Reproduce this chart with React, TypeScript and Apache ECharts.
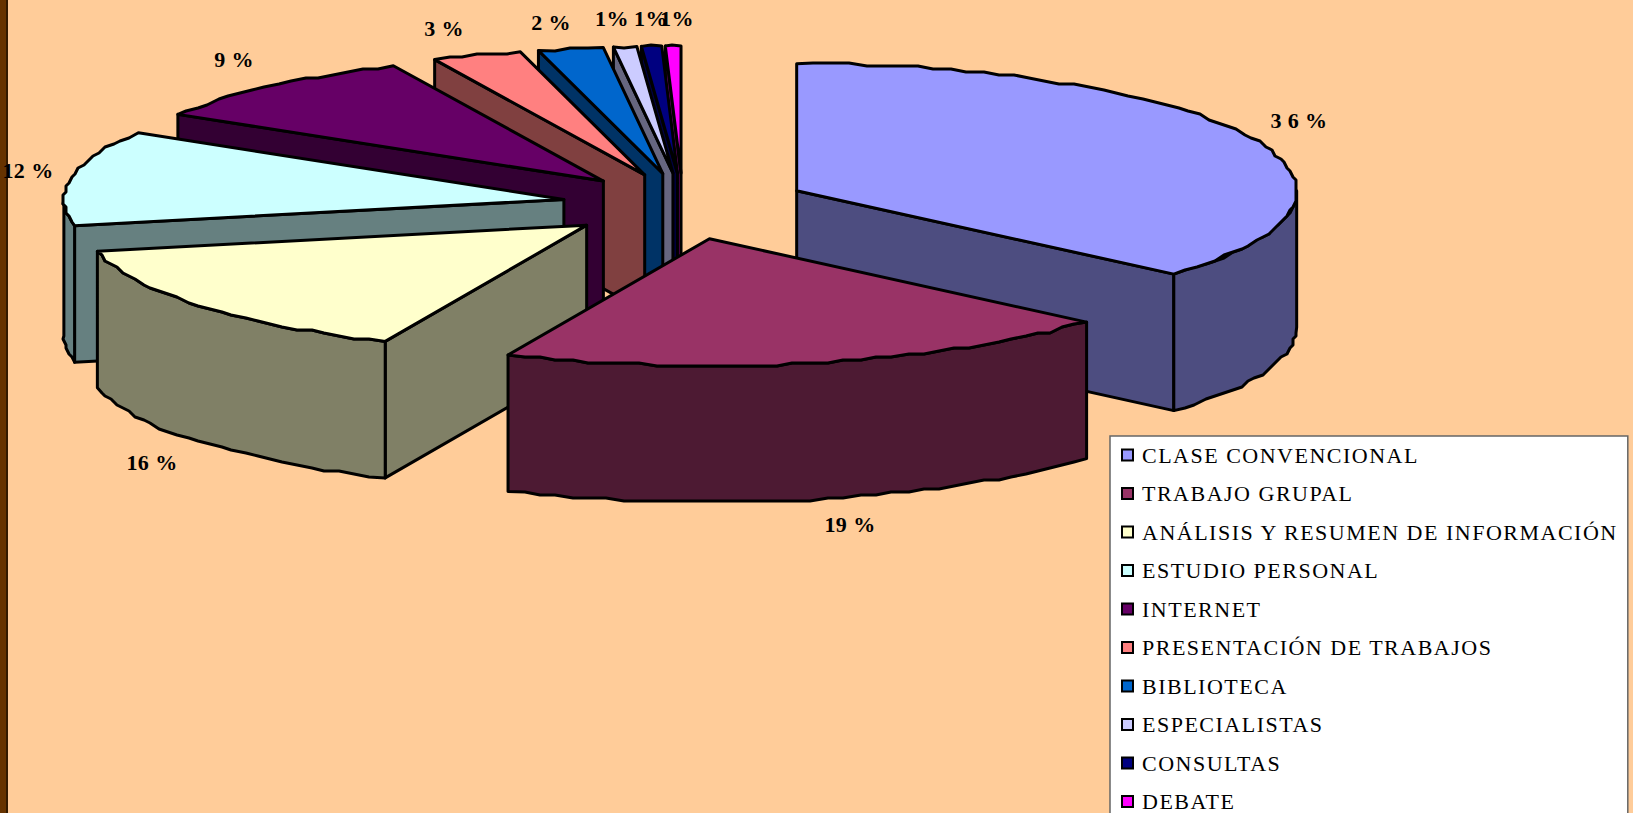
import React, { useEffect, useRef } from "react";
import * as echarts from "echarts";

const categories = [
  "CLASE CONVENCIONAL",
  "TRABAJO GRUPAL",
  "ANÁLISIS Y RESUMEN DE INFORMACIÓN",
  "ESTUDIO PERSONAL",
  "INTERNET",
  "PRESENTACIÓN DE TRABAJOS",
  "BIBLIOTECA",
  "ESPECIALISTAS",
  "CONSULTAS",
  "DEBATE",
];
// slice sizes
const shares = [36.4, 20.2, 15.1, 12.1, 9.3, 2.9, 2.1, 0.75, 0.65, 0.5];
const valueLabels = ["3 6 %", "19 %", "16 %", "12 %", "9 %", "3 %", "2 %", "1%", "1%", "1%"];

const topColors = ["#9999FF", "#993366", "#FFFFCC", "#CCFFFF", "#660066", "#FF8080", "#0066CC", "#CCCCFF", "#000080", "#FF00FF"];
const sideColors = ["#4D4D80", "#4D1A33", "#808066", "#668080", "#330033", "#804040", "#003366", "#666680", "#000040", "#800080"];
const labelPlaces = [
  [1299, 120], [850, 524], [152, 462], [28, 170], [234, 59],
  [444, 28], [551, 22], [612, 18], [651, 18], [677, 18],
];
const apexNudges = [[0, -1], [0, 2.5], [2.5, 0], [6, 0], [5, 0], [5, 0], [4, 0], [3, 0], [2, 0], [1, 0]];
const drawOrder = [9, 8, 7, 6, 5, 4, 3, 2, 0, 1];

const CX = 682, CY = 205, RX = 500, RY = 127, DEPTH = 136.5, EXPLODE = 0.252;
const LINE = 3, SNAP = 3;
const FONT = "'Liberation Serif', 'Times New Roman', serif";

const total = shares.reduce((a, b) => a + b, 0);
const rad = (d: number) => (d * Math.PI) / 180;

function sliceShapes(i: number) {
  const before = shares.slice(0, i).reduce((a, b) => a + b, 0);
  const s = (before / total) * 360;
  const e = ((before + shares[i]) / total) * 360;
  const m = (s + e) / 2;
  const ax = CX + EXPLODE * RX * Math.sin(rad(m)) + apexNudges[i][0];
  const ay = CY - EXPLODE * RY * Math.cos(rad(m)) + apexNudges[i][1];
  const at = (t: number, down = 0) => [ax + RX * Math.sin(rad(t)), ay - RY * Math.cos(rad(t)) + down];
  // the reference's curved edges are stepped: snap the in-between outline points to a small grid
  const arc = (a: number, b: number, down = 0) => {
    const n = Math.max(2, Math.ceil((b - a) / 2));
    const pts: number[][] = [];
    for (let k = 0; k <= n; k++) {
      const p = at(a + ((b - a) * k) / n, down);
      pts.push(k === 0 || k === n ? p : [Math.round(p[0] / SNAP) * SNAP, Math.round(p[1] / SNAP) * SNAP]);
    }
    return pts;
  };
  const style = (fill: string) => ({ fill, stroke: "#000", lineWidth: LINE, lineJoin: "round" });
  const children: any[] = [];
  const wall = (t: number) => ({
    type: "polygon",
    shape: { points: [[ax, ay], at(t), at(t, DEPTH), [ax, ay + DEPTH]] },
    style: style(sideColors[i]),
  });
  if (Math.sin(rad(e)) > 0.001) children.push(wall(e));
  if (Math.sin(rad(s)) < -0.001) children.push(wall(s));
  const a = Math.max(s, 90), b = Math.min(e, 270);
  if (b > a) {
    children.push({
      type: "polygon",
      shape: { points: [...arc(a, b), ...arc(a, b, DEPTH).reverse()] },
      style: style(sideColors[i]),
    });
  }
  children.push({
    type: "polygon",
    shape: { points: [[ax, ay], ...arc(s, e)] },
    style: style(topColors[i]),
  });
  const [lx, ly] = labelPlaces[i];
  children.push({
    type: "text",
    style: {
      text: valueLabels[i], x: lx, y: ly, fill: "#000", fontFamily: FONT,
      fontSize: 22, fontWeight: "bold", align: "center", verticalAlign: "middle",
    },
  });
  return children;
}

export default function App() {
  const ref = useRef<HTMLDivElement>(null);
  useEffect(() => {
    document.body.style.margin = "0";
    document.body.style.overflow = "hidden";
    const chart = echarts.init(ref.current!, undefined, { renderer: "svg" });
    chart.setOption({
      animation: false,
      backgroundColor: "#FFCC99",
      graphic: [
        { type: "rect", shape: { x: 0, y: 0, width: 6, height: 813 }, style: { fill: "#663300" }, silent: true },
        { type: "rect", shape: { x: 6, y: 0, width: 2, height: 813 }, style: { fill: "#331A00" }, silent: true },
      ],
      legend: {
        orient: "vertical",
        left: 1110,
        top: 436,
        height: 420,
        padding: [8, 58, 8, 11],
        backgroundColor: "#FFFFFF",
        borderColor: "#666666",
        borderWidth: 1.5,
        borderRadius: 0,
        itemWidth: 11,
        itemHeight: 11,
        itemGap: 16.5,
        selectedMode: false,
        textStyle: { fontFamily: FONT, fontSize: 22, color: "#000", padding: [0, 0, 0, 4] },
        data: categories.map((name, i) => ({
          name,
          icon: "rect",
          itemStyle: { color: topColors[i], borderColor: "#000", borderWidth: 2 },
        })),
      },
      series: drawOrder.map((i, order) => ({
        type: "custom",
        name: categories[i],
        coordinateSystem: "none",
        z: 2 + order,
        silent: true,
        clip: false,
        itemStyle: { color: topColors[i] },
        data: [[shares[i]]],
        renderItem: () => ({ type: "group", children: sliceShapes(i) }),
      })),
    });
    return () => chart.dispose();
  }, []);
  return (
    <>
      <style>{`svg text { letter-spacing: 1.5px; } svg text[style*="bold"] { letter-spacing: 0.4px; }`}</style>
      <div ref={ref} style={{ width: 1633, height: 813 }} />
    </>
  );
}
